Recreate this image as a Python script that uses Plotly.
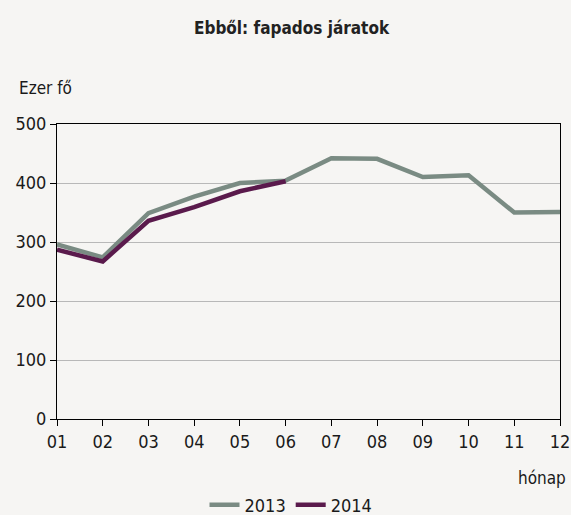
import plotly.graph_objects as go

months = ["01", "02", "03", "04", "05", "06", "07", "08", "09", "10", "11", "12"]
y2013 = [296, 274, 349, 377, 400, 404, 442, 441, 410, 413, 350, 351]
y2014 = [287, 267, 336, 359, 386, 403]
yticks = [0, 100, 200, 300, 400, 500]

FONT = "DejaVu Sans Condensed, Liberation Sans Narrow, Arial Narrow, sans-serif"
BG = "#f6f5f3"

fig = go.Figure()
fig.add_trace(go.Scatter(x=months, y=y2013, mode="lines", name="2013",
                         line=dict(color="#7a8b83", width=4.5)))
fig.add_trace(go.Scatter(x=months[:len(y2014)], y=y2014, mode="lines", name="2014",
                         line=dict(color="#5a1a4c", width=4.5)))

L, R, T, B = 57, 11, 124, 96
W, H = 571, 515
pw = W - L - R
ph = H - T - B

def px(x):
    return (x - L) / pw

def py(y):
    return (H - B - y) / ph

fig.update_layout(
    width=W, height=H,
    margin=dict(l=L, r=R, t=T, b=B, autoexpand=False),
    paper_bgcolor=BG, plot_bgcolor=BG,
    font=dict(family=FONT, size=17, color="#1a1a1a"),
    showlegend=True,
    legend=dict(orientation="h", x=px(291), xanchor="center", y=py(505),
                yanchor="middle", font=dict(size=18, family=FONT), bgcolor="rgba(0,0,0,0)",
                itemwidth=30, tracegroupgap=0),
    xaxis=dict(type="category", range=[0, 11], showgrid=False, showline=True,
               linecolor="#000", linewidth=1.2, mirror=True, ticks="outside", ticklen=6,
               tickcolor="#000", tickfont=dict(size=18, family=FONT), zeroline=False),
    yaxis=dict(range=[0, 500], tickvals=yticks, showgrid=True, gridcolor="#b8b8b8",
               gridwidth=1, showline=True, linecolor="#000", linewidth=1.2, mirror=True,
               ticks="outside", ticklen=6, tickcolor="#000", zeroline=False,
               tickfont=dict(size=18, family=FONT)),
    annotations=[
        dict(text="<b>Ebből: fapados járatok</b>", xref="paper", yref="paper",
             x=px(292), y=py(28), xanchor="center", yanchor="middle",
             showarrow=False, font=dict(size=17, family=FONT, color="#222")),
        dict(text="Ezer fő", xref="paper", yref="paper",
             x=px(17), y=py(88), xanchor="left", yanchor="middle",
             showarrow=False, font=dict(size=17, family=FONT)),
        dict(text="hónap", xref="paper", yref="paper",
             x=px(568), y=py(478), xanchor="right", yanchor="middle",
             showarrow=False, font=dict(size=17, family=FONT)),
    ],
)

fig.write_html(
    "out.html",
    config={"displayModeBar": False},
    post_script="document.body.style.margin='0';document.body.style.overflow='hidden';"
                "document.documentElement.style.overflow='hidden';",
)
